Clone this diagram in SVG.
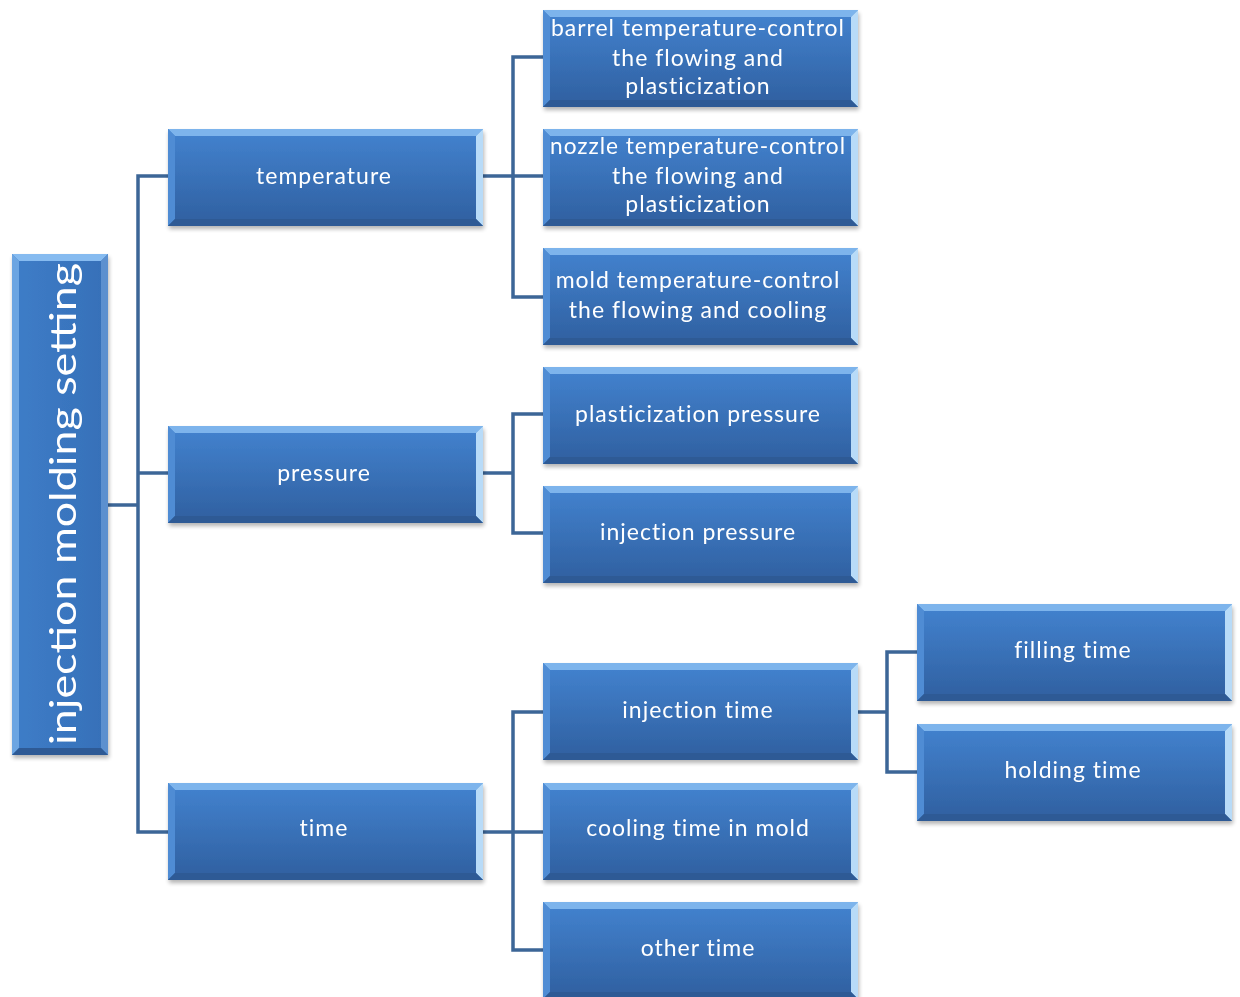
<svg xmlns="http://www.w3.org/2000/svg" xmlns:xlink="http://www.w3.org/1999/xlink" width="1240" height="997" viewBox="0 0 1240 997">
<style>
.t{font-family:Lato,"Open Sans","Liberation Sans",sans-serif;font-size:23px;letter-spacing:1px;fill:#ffffff;text-anchor:middle}
.c{fill:none;stroke:#3C6697;stroke-width:3.5}
</style>
<defs>
<linearGradient id="g" x1="0" y1="0" x2="0" y2="1">
<stop offset="0" stop-color="#4383D0"/>
<stop offset="1" stop-color="#2F5F9F"/>
</linearGradient>
<linearGradient id="gr" x1="0" y1="0" x2="1" y2="0">
<stop offset="0" stop-color="#3E7DC8"/>
<stop offset="1" stop-color="#3670B8"/>
</linearGradient>
<filter id="sh" x="-10%" y="-10%" width="120%" height="130%">
<feGaussianBlur in="SourceAlpha" stdDeviation="2"/>
<feOffset dx="1" dy="3"/>
<feComponentTransfer><feFuncA type="linear" slope="0.3"/></feComponentTransfer>
<feMerge><feMergeNode/><feMergeNode in="SourceGraphic"/></feMerge>
</filter>
<g id="box">
<rect x="0" y="0" width="315" height="97" fill="url(#g)"/>
<polygon points="0,0 315,0 308,7 7,7" fill="#7DB4EC"/>
<polygon points="0,0 7,7 7,90 0,97" fill="#4F8CD4"/>
<polygon points="315,0 315,97 308,90 308,7" fill="#B8DBF8"/>
<polygon points="0,97 7,90 308,90 315,97" fill="#2D5A95"/>
</g>
</defs>
<rect width="1240" height="997" fill="#ffffff"/>
<g id="connectors">
<polyline class="c" points="108,505 138,505"/>
<polyline class="c" points="170,176 138,176 138,832 170,832"/>
<polyline class="c" points="138,473 170,473"/>
<polyline class="c" points="483,176 545,176"/>
<polyline class="c" points="545,57 513,57 513,297 545,297"/>
<polyline class="c" points="483,473 513,473"/>
<polyline class="c" points="545,414 513,414 513,533 545,533"/>
<polyline class="c" points="483,832 545,832"/>
<polyline class="c" points="545,712 513,712 513,950 545,950"/>
<polyline class="c" points="857,712 887,712"/>
<polyline class="c" points="919,652 887,652 887,772 919,772"/>
</g>
<g id="root" filter="url(#sh)">
<rect x="12" y="254" width="96" height="501" fill="url(#gr)"/>
<polygon points="12,254 108,254 101,261 19,261" fill="#86BBF0"/>
<polygon points="12,254 19,261 19,748 12,755" fill="#6CA5E2"/>
<polygon points="108,254 108,755 101,748 101,261" fill="#5C90CF"/>
<polygon points="12,755 19,748 101,748 108,755" fill="#2D5A95"/>
<text class="t" transform="translate(76,504) rotate(-90)" style="font-size:36px;letter-spacing:0" textLength="482" lengthAdjust="spacingAndGlyphs">injection molding setting</text>
</g>
<g id="temperature" filter="url(#sh)"><use xlink:href="#box" x="168" y="129"/><text class="t" x="324" y="184">temperature</text></g>
<g id="pressure" filter="url(#sh)"><use xlink:href="#box" x="168" y="426"/><text class="t" x="324" y="481">pressure</text></g>
<g id="time" filter="url(#sh)"><use xlink:href="#box" x="168" y="783"/><text class="t" x="324" y="836">time</text></g>
<g id="barrel" filter="url(#sh)"><use xlink:href="#box" x="543" y="10"/><text class="t" x="698" y="36" textLength="294" lengthAdjust="spacingAndGlyphs">barrel temperature-control</text><text class="t" x="698" y="66">the flowing and</text><text class="t" x="698" y="94">plasticization</text></g>
<g id="nozzle" filter="url(#sh)"><use xlink:href="#box" x="543" y="129"/><text class="t" x="698" y="154" textLength="296" lengthAdjust="spacingAndGlyphs">nozzle temperature-control</text><text class="t" x="698" y="184">the flowing and</text><text class="t" x="698" y="212">plasticization</text></g>
<g id="mold" filter="url(#sh)"><use xlink:href="#box" x="543" y="248"/><text class="t" x="698" y="288">mold temperature-control</text><text class="t" x="698" y="318">the flowing and cooling</text></g>
<g id="plasticization-pressure" filter="url(#sh)"><use xlink:href="#box" x="543" y="367"/><text class="t" x="698" y="422">plasticization pressure</text></g>
<g id="injection-pressure" filter="url(#sh)"><use xlink:href="#box" x="543" y="486"/><text class="t" x="698" y="540">injection pressure</text></g>
<g id="injection-time" filter="url(#sh)"><use xlink:href="#box" x="543" y="663"/><text class="t" x="698" y="718">injection time</text></g>
<g id="cooling-time" filter="url(#sh)"><use xlink:href="#box" x="543" y="783"/><text class="t" x="698" y="836">cooling time in mold</text></g>
<g id="other-time" filter="url(#sh)"><use xlink:href="#box" x="543" y="902"/><text class="t" x="698" y="956">other time</text></g>
<g id="filling-time" filter="url(#sh)"><use xlink:href="#box" x="917" y="604"/><text class="t" x="1073" y="658">filling time</text></g>
<g id="holding-time" filter="url(#sh)"><use xlink:href="#box" x="917" y="724"/><text class="t" x="1073" y="778">holding time</text></g>
</svg>
